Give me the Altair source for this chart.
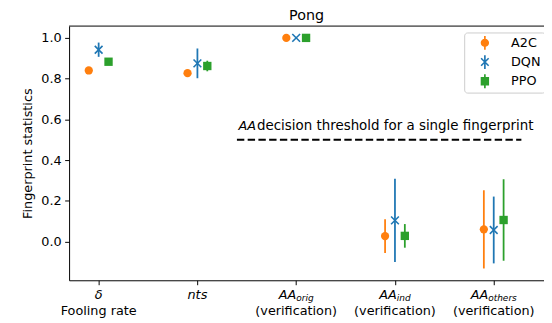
import altair as alt
import pandas as pd

# ---------------- data ----------------
categories = ["delta", "nts", "AA_orig", "AA_ind", "AA_others"]
cat_main = ["δ", "nts", "AA", "AA", "AA"]
cat_sub = ["", "", "orig", "ind", "others"]
cat_line2 = ["Fooling rate", "", "(verification)", "(verification)", "(verification)"]

models = ["A2C", "DQN", "PPO"]
colors = ["#ff7f0e", "#1f77b4", "#2ca02c"]

a2c_mean = [0.840, 0.827, 1.000, 0.027, 0.060]
a2c_err = [0.006, 0.004, 0.000, 0.083, 0.192]
dqn_mean = [0.942, 0.875, 1.000, 0.104, 0.057]
dqn_err = [0.035, 0.073, 0.000, 0.204, 0.164]
ppo_mean = [0.883, 0.862, 1.000, 0.028, 0.106]
ppo_err = [0.008, 0.026, 0.000, 0.058, 0.200]

threshold = 0.5
threshold_x = [1.4, 4.28]
threshold_label = ["AA", "decision threshold for a single fingerprint"]
y_ticks = [0.0, 0.2, 0.4, 0.6, 0.8, 1.0]
title = "Pong"
y_title = "Fingerprint statistics"

# ---------------- layout / style ----------------
W, H = 482, 258
FONT = "DejaVu Sans"
model_dodge = [-0.1, 0.0, 0.1]
x_domain = [-0.2993, 4.509]
y_domain = [-0.19, 1.058]
xs = alt.Scale(domain=x_domain, nice=False, zero=False)
ys = alt.Scale(domain=y_domain, nice=False, zero=False)

means = [a2c_mean, dqn_mean, ppo_mean]
errs = [a2c_err, dqn_err, ppo_err]
rows = []
for mi, m in enumerate(models):
    for ci, c in enumerate(categories):
        rows.append({
            "model": m, "cat": c, "x": ci + model_dodge[mi],
            "mean": means[mi][ci],
            "lo": means[mi][ci] - errs[mi][ci],
            "hi": means[mi][ci] + errs[mi][ci],
        })
df = pd.DataFrame(rows)

# approximate DejaVu advance widths (per 1000 em) for label centring
ADV = {'A': 684, 'o': 612, 'r': 411, 'i': 278, 'g': 635, 'n': 634, 'd': 635,
       't': 392, 'h': 634, 'e': 615, 's': 521, 'δ': 612}
def tw(s, fs):
    return sum(ADV.get(ch, 600) for ch in s) / 1000.0 * fs

MAIN_FS, SUB_FS = 13, 9.1

# custom symbol paths
X_PATH = "M-1,-1L1,1M-1,1L1,-1"
bar = "M-0.2,-1.65L0.2,-1.65L0.2,1.65L-0.2,1.65Z"
leg_circle = "M1,0A1,1 0 1,1 -1,0A1,1 0 1,1 1,0Z" + bar
leg_x = ("M-0.766,-1.034L1.034,0.766L0.766,1.034L-1.034,-0.766Z"
         "M1.034,-0.766L-0.766,1.034L-1.034,0.766L0.766,-1.034Z") + bar
leg_square = "M-1,-1L1,-1L1,1L-1,1Z" + bar

# the axis layer defines the axes explicitly; other layers leave them implicit
def X(field):
    return alt.X(field, scale=xs)

def Y(field):
    return alt.Y(field, scale=ys)

layers = []

xax = alt.Axis(orient="bottom", values=[0, 1, 2, 3, 4], labels=False, ticks=True,
               tickSize=4.5, tickColor="black", tickWidth=1, domainColor="black",
               domainWidth=1, title=None, grid=False)
yax = alt.Axis(orient="left", values=y_ticks, format=".1f", title=y_title, labelFontSize=13,
               titleFontSize=13, titleFontWeight="normal", tickSize=4.5,
               labelPadding=3.5, titlePadding=6, grid=False, domainColor="black",
               tickColor="black", labelColor="black", titleColor="black",
               domainWidth=1, tickWidth=1, labelFont=FONT, titleFont=FONT)
axis_layer = alt.Chart(df).mark_point(opacity=0, size=1).encode(
    x=alt.X("x:Q", scale=xs, axis=xax),
    y=alt.Y("mean:Q", scale=ys, axis=yax),
)
layers.append(axis_layer)

# top frame line (at the top of the y domain, spanning the full width)
layers.append(alt.Chart(pd.DataFrame({"k": [0]})).mark_rule(color="black", strokeWidth=1).encode(
    y=alt.datum(y_domain[1], scale=ys)))

# error bars and markers per model
marker_specs = [
    dict(shape="circle", filled=True, size=70, strokeWidth=0),
    dict(shape=X_PATH, filled=False, size=62, strokeWidth=1.6),
    dict(shape="square", filled=True, size=72, strokeWidth=0),
]
for mi, m in enumerate(models):
    sub = df[df.model == m]
    base = alt.Chart(sub)
    rule = base.mark_rule(color=colors[mi], strokeWidth=1.8).encode(
        x=X("x:Q"), y=Y("lo:Q"), y2="hi:Q")
    pt = base.mark_point(color=colors[mi], opacity=1, **marker_specs[mi]).encode(
        x=X("x:Q"), y=Y("mean:Q"))
    layers += [rule, pt]

# legend layer (invisible points, visible legend)
leg = alt.Legend(title=None, orient="none", legendX=401, legendY=6.5, padding=4,
                 symbolOffset=10.5, labelOffset=20, rowPadding=4.5, symbolSize=72,
                 labelFontSize=13, labelFont=FONT, labelColor="black",
                 strokeColor="#cccccc", fillColor="white", cornerRadius=3,
                 symbolOpacity=1, symbolStrokeWidth=0)
legend_layer = alt.Chart(df).mark_point(filled=True, opacity=0).encode(
    x=X("x:Q"), y=Y("mean:Q"),
    color=alt.Color("model:N", scale=alt.Scale(domain=models, range=colors), legend=leg),
    shape=alt.Shape("model:N", scale=alt.Scale(domain=models, range=[leg_circle, leg_x, leg_square]), legend=leg),
)
layers.append(legend_layer)

# threshold line + label
thr_df = pd.DataFrame({"x": [threshold_x[0]], "x2": [threshold_x[1]], "y": [threshold]})
thr = alt.Chart(thr_df).mark_rule(color="black", strokeWidth=2.2, strokeDash=[7.5, 3.4]).encode(
    x=X("x:Q"), x2="x2:Q", y=Y("y:Q"))
layers.append(thr)
thr_text_df = pd.DataFrame({"x": [threshold_x[0]] * 2, "y": [threshold] * 2,
                            "t": threshold_label})
t1 = alt.Chart(thr_text_df.iloc[[0]]).mark_text(
    align="left", baseline="alphabetic", dx=1.5, dy=-9.5, fontSize=13, fontStyle="italic",
    font=FONT, color="black").encode(x=X("x:Q"), y=Y("y:Q"), text="t:N")
t2 = alt.Chart(thr_text_df.iloc[[1]]).mark_text(
    align="left", baseline="alphabetic", dy=-9.5, dx=tw("AA", 13) + 2.6, fontSize=13.6,
    font=FONT, color="black").encode(x=X("x:Q"), y=Y("y:Q"), text="t:N")
layers += [t1, t2]

# x tick labels (math first line with subscripts, then plain second line)
for ci in range(len(categories)):
    wm = tw(cat_main[ci], MAIN_FS)
    wsub = tw(cat_sub[ci], SUB_FS)
    tot = wm + wsub
    one = pd.DataFrame({"x": [ci], "main": [cat_main[ci]], "sub": [cat_sub[ci]],
                        "line2": [cat_line2[ci]]})
    layers.append(alt.Chart(one).mark_text(
        align="left", baseline="middle", dx=-tot / 2, dy=14.5, fontSize=MAIN_FS,
        fontStyle="italic", font=FONT, color="black").encode(
        x=X("x:Q"), y=alt.value(H), text="main:N"))
    if cat_sub[ci]:
        layers.append(alt.Chart(one).mark_text(
            align="left", baseline="middle", dx=-tot / 2 + wm, dy=18.5, fontSize=SUB_FS,
            fontStyle="italic", font=FONT, color="black").encode(
            x=X("x:Q"), y=alt.value(H), text="sub:N"))
    if cat_line2[ci]:
        layers.append(alt.Chart(one).mark_text(
            align="center", baseline="middle", dy=31, fontSize=13, font=FONT,
            color="black").encode(
            x=X("x:Q"), y=alt.value(H), text="line2:N"))

chart = alt.layer(*layers).properties(
    width=W, height=H,
    title=alt.TitleParams(title, fontSize=14.5, fontWeight="normal", font=FONT,
                          anchor="middle", offset=2.5, frame="group", color="black"),
    autosize=alt.AutoSizeParams(type="none"),
    padding={"left": 62, "top": 16, "right": 0, "bottom": 41},
).configure(font=FONT).configure_view(stroke=None)

chart.save("out.html", embed_options={"renderer": "svg", "actions": False})
